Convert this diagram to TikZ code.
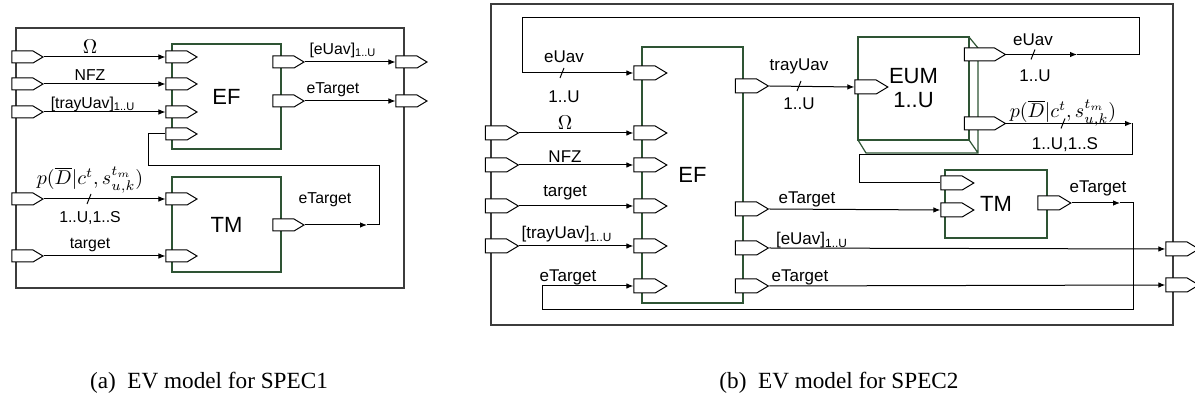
\documentclass[tikz,border=0pt]{standalone}
\usepackage[no-math]{fontspec}
\setmainfont{Liberation Sans}
\newfontfamily\captionfont{Liberation Serif}
\usetikzlibrary{shapes.symbols,arrows.meta}

\definecolor{blockgreen}{RGB}{46,84,52}
\definecolor{framegray}{RGB}{60,60,60}

\tikzset{
  port/.style={draw, fill=white, signal, signal to=east, signal from=nowhere,
    signal pointer angle=62, minimum width=15.5pt, minimum height=6pt,
    inner sep=0pt, line width=0.5pt},
  bport/.style={port, minimum width=16.5pt, minimum height=7pt},
  wideport/.style={port, minimum width=20.5pt, minimum height=6.5pt},
  block/.style={draw=blockgreen, fill=white, line width=0.6pt, align=center,
    font=\fontsize{11}{12}\selectfont},
  frame/.style={draw=framegray, line width=0.6pt},
  wire/.style={line width=0.5pt},
  lbla/.style={font=\fontsize{7.9}{8}\selectfont, inner sep=0pt},
  lblb/.style={font=\fontsize{8.5}{9}\selectfont, inner sep=0pt},
  mathlbl/.style={font=\fontsize{10.3}{12}\selectfont, inner sep=0pt},
}
\newcommand{\slashmark}[1]{\draw[wire] (#1) ++(-2,5) -- ++(4,-10);}

\begin{document}
\begin{tikzpicture}[x=0.5pt, y=-0.5pt, >={Latex[length=3.5pt,width=2.8pt]}]
  \useasboundingbox (0,0) rectangle (1195,400);

  % (a) SPEC1
  \draw[frame] (16,28) rectangle (404,288);
  \node[block, minimum width=54.5pt, minimum height=52.5pt] (aEF) at (226.5,96.5) {EF};
  \node[block, minimum width=54.5pt, minimum height=47.5pt] (aTM) at (226.5,224.5) {TM};

  \node[port] (aInOmega)  at (22.5,57) {};
  \node[port] (aInNfz)    at (22.5,84) {};
  \node[port] (aInTray)   at (22.5,112) {};
  \node[port] (aInProb)   at (22.5,199) {};
  \node[port] (aInTarget) at (22.5,256) {};
  \node[port] (aEFin1) at (176.5,57) {};
  \node[port] (aEFin2) at (176.5,84) {};
  \node[port] (aEFin3) at (176.5,112) {};
  \node[port] (aEFin4) at (176.5,134) {};
  \node[port] (aEFout1) at (283.5,62) {};
  \node[port] (aEFout2) at (283.5,101) {};
  \node[port] (aTMin1) at (176.5,199) {};
  \node[port] (aTMin2) at (176.5,256) {};
  \node[port] (aTMout) at (283.5,225) {};
  \node[port] (aOut1) at (406.5,62) {};
  \node[port] (aOut2) at (406.5,101) {};

  \draw[wire,->] (aInOmega.east) -- (aEFin1.west);
  \draw[wire,->] (aInNfz.east) -- (aEFin2.west);
  \draw[wire,->] (aInTray.east) -- (aEFin3.west);
  \draw[wire,->] (aInProb.east) -- (aTMin1.west);
  \draw[wire,->] (aInTarget.east) -- (aTMin2.west);
  \draw[wire,->] (aEFout1.east) -- (aOut1.west);
  \draw[wire,->] (aEFout2.east) -- (aOut2.west);
  \coordinate (aMark) at (367,225);
  \coordinate (aLoop) at (148,134);
  \draw[wire,->] (aTMout.east) -- (aMark);
  \draw[wire] (aMark) -| (379,166) -| (aLoop) -- (aEFin4.west);

  \node[mathlbl] (aLblOmega) at (90,47) {$\Omega$};
  \node[lbla] (aLblNfz) at (90,75) {NFZ};
  \node[lbla] (aLblTray) at (93,104) {[trayUav]\textsubscript{1..U}};
  \node[lbla] (aLblEUav) at (343,50) {[eUav]\textsubscript{1..U}};
  \node[lbla] (aLblET) at (333,90) {eTarget};
  \node[mathlbl] (aLblProb) at (90,180) {$p(\overline{D}|c^t,s^{t_m}_{u,k})$};
  \slashmark{89,199}
  \node[lbla] (aLblMult) at (90,218) {1..U,1..S};
  \node[lbla] (aLblTarget) at (90,245) {target};
  \node[lbla] (aLblTMout) at (325,200) {eTarget};

  % (b) SPEC2
  \draw[frame] (491,4) rectangle (1173,325);
  \node[block, minimum width=50.5pt, minimum height=128pt] (bEF) at (692.5,175) {EF};
  \draw[draw=blockgreen, line width=0.6pt] (969,37) -- (978,48) -- (978,153) -- (866,153) -- (858,140)
    (969,140) -- (978,153);
  \node[block, minimum width=55.5pt, minimum height=51.5pt] (bEUM) at (913.5,88.5) {EUM\\1..U};
  \node[block, minimum width=51pt, minimum height=34pt] (bTM) at (996,204) {TM};

  \node[bport] (bInOmega)  at (496,133) {};
  \node[bport] (bInNfz)    at (496,165) {};
  \node[bport] (bInTarget) at (496,206) {};
  \node[bport] (bInTray)   at (496,246) {};
  \node[bport] (bEFin1) at (644.5,73) {};
  \node[bport] (bEFin2) at (644.5,133) {};
  \node[bport] (bEFin3) at (644.5,165) {};
  \node[bport] (bEFin4) at (644.5,206) {};
  \node[bport] (bEFin5) at (644.5,246) {};
  \node[bport] (bEFin6) at (644.5,286) {};
  \node[bport] (bEFout1) at (746,86) {};
  \node[bport] (bEFout2) at (746,209) {};
  \node[bport] (bEFout3) at (746,248) {};
  \node[bport] (bEFout4) at (746,286) {};
  \node[bport] (bEUMin) at (865.5,87) {};
  \node[wideport] (bEUMout1) at (979.5,54.5) {};
  \node[wideport] (bEUMout2) at (979.5,123.5) {};
  \node[bport] (bTMin1) at (951.5,183) {};
  \node[bport] (bTMin2) at (951.5,210) {};
  \node[bport] (bTMout) at (1048.5,203) {};
  \node[bport] (bOut1) at (1176.5,249) {};
  \node[bport] (bOut2) at (1176.5,285) {};

  \draw[wire,->] (bInOmega.east) -- (bEFin2.west);
  \draw[wire,->] (bInNfz.east) -- (bEFin3.west);
  \draw[wire,->] (bInTarget.east) -- (bEFin4.west);
  \draw[wire,->] (bInTray.east) -- (bEFin5.west);
  \draw[wire,->] (bEFout1.east) -- (bEUMin.west);
  \draw[wire,->] (bEFout2.east) -- (bTMin2.west);
  \draw[wire,->] (bEFout3.east) -- (bOut1.west);
  \draw[wire,->] (bEFout4.east) -- (bOut2.west);

  \coordinate (bMarkUav) at (1077,54.5);
  \coordinate (bLoopUav) at (522,73);
  \draw[wire,->] (bEUMout1.east) -- (bMarkUav);
  \draw[wire,->] (bMarkUav) -| (1139,18) -| (bLoopUav) -- (bEFin1.west);

  \coordinate (bMarkProb) at (1132,123.5);
  \draw[wire,->] (bEUMout2.east) -- (bMarkProb);
  \draw[wire] (bMarkProb) |- (859,155) |- (bTMin1.west);

  \coordinate (bMarkET) at (1120,203);
  \coordinate (bLoopET) at (542,286);
  \draw[wire,->] (bTMout.east) -- (bMarkET);
  \draw[wire,->] (bMarkET) -| (1133,310) -| (bLoopET) -- (bEFin6.west);

  \node[lblb] (bLblUavL) at (564,57) {eUav};
  \slashmark{562,73}
  \node[lblb] (bLblUavLm) at (564,97) {1..U};
  \node[mathlbl] (bLblOmega) at (565,123) {$\Omega$};
  \node[lblb] (bLblNfz) at (565,157) {NFZ};
  \node[lblb] (bLblTarget) at (565,193) {target};
  \node[lblb] (bLblTray) at (567,234) {[trayUav]\textsubscript{1..U}};
  \node[lblb] (bLblETin) at (568,277) {eTarget};
  \node[lblb] (bLblTray2) at (799,66) {trayUav};
  \slashmark{799,86}
  \node[lblb] (bLblTray2m) at (799,104) {1..U};
  \node[lblb] (bLblETtm) at (807,199) {eTarget};
  \node[lblb] (bLblEUav) at (812,240) {[eUav]\textsubscript{1..U}};
  \node[lblb] (bLblETout) at (800,277) {eTarget};
  \node[lblb] (bLblUavR) at (1033,40) {eUav};
  \slashmark{1033,54.5}
  \node[lblb] (bLblUavRm) at (1035,76) {1..U};
  \node[mathlbl] (bLblProb) at (1063,113) {$p(\overline{D}|c^t,s^{t_m}_{u,k})$};
  \slashmark{1063,123.5}
  \node[lblb] (bLblProbm) at (1065,145) {1..U,1..S};
  \node[lblb] (bLblTMout) at (1098,188) {eTarget};

  % captions
  \node[font=\captionfont\fontsize{11.6}{12}\selectfont] (capA) at (209,383) {(a)\ \ EV model for SPEC1};
  \node[font=\captionfont\fontsize{11.6}{12}\selectfont] (capB) at (839,383) {(b)\ \ EV model for SPEC2};
\end{tikzpicture}
\end{document}
